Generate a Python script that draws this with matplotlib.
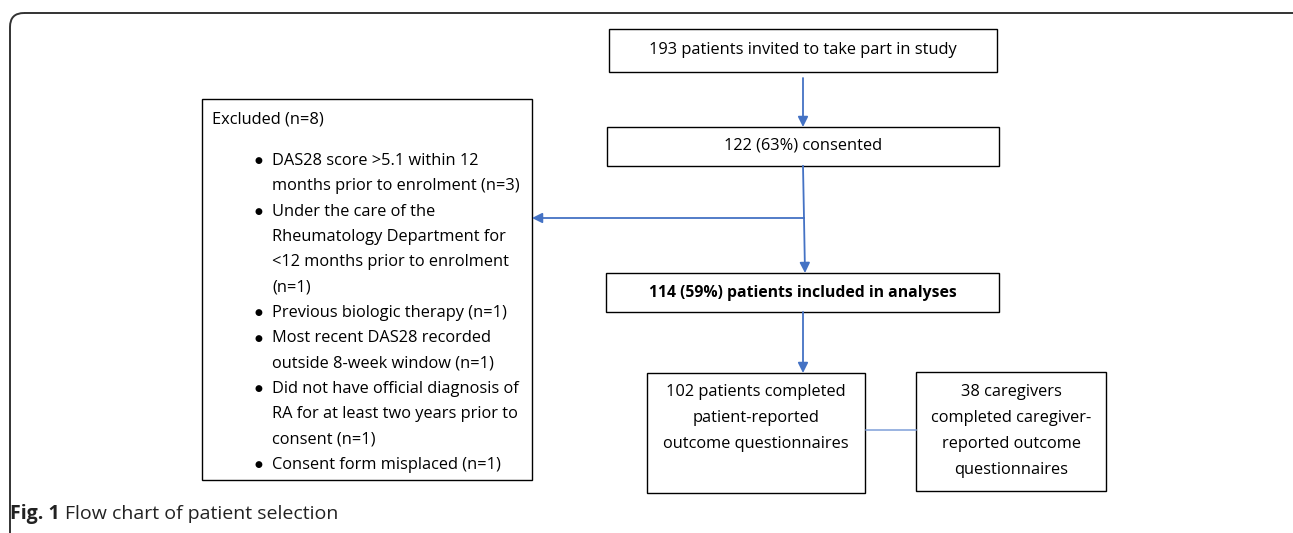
import matplotlib
matplotlib.use("Agg")
import matplotlib.pyplot as plt
from matplotlib.patches import Rectangle, FancyBboxPatch

plt.rcParams['font.family'] = ['Open Sans', 'DejaVu Sans']

# texts of the flow chart
invited_txt = "193 patients invited to take part in study"
consent_txt = "122 (63%) consented"
included_txt = "114 (59%) patients included in analyses"
patients_lines = ["102 patients completed", "patient-reported", "outcome questionnaires"]
carers_lines = ["38 caregivers", "completed caregiver-", "reported outcome", "questionnaires"]
excl_title = "Excluded (n=8)"
excl_items = [
    ["DAS28 score >5.1 within 12", "months prior to enrolment (n=3)"],
    ["Under the care of the", "Rheumatology Department for",
     "<12 months prior to enrolment", "(n=1)"],
    ["Previous biologic therapy (n=1)"],
    ["Most recent DAS28 recorded", "outside 8-week window (n=1)"],
    ["Did not have official diagnosis of", "RA for at least two years prior to",
     "consent (n=1)"],
    ["Consent form misplaced (n=1)"],
]
cap_bold = "Fig. 1"
cap_rest = "Flow chart of patient selection"

W, H = 1293, 533
fig = plt.figure(figsize=(W / 100, H / 100), dpi=100)
ax = fig.add_axes([0, 0, 1, 1])
ax.set_xlim(0, W)
ax.set_ylim(H, 0)
ax.axis("off")

blue = "#4472c4"
fs = 11.8

# outer rounded frame
ax.add_patch(FancyBboxPatch((10, 13), 1300, 600, boxstyle="round,pad=0,rounding_size=14",
                            fill=False, ec="#333333", lw=1.4, clip_on=True))

def box(x0, y0, x1, y1):
    ax.add_patch(Rectangle((x0, y0), x1 - x0, y1 - y0, fill=False, ec="black", lw=1.0))

def arrow(x0, y0, x1, y1):
    ax.annotate("", xy=(x1, y1), xytext=(x0, y0),
                arrowprops=dict(arrowstyle="-|>,head_length=0.6,head_width=0.3",
                                color=blue, lw=1.3, shrinkA=0, shrinkB=0))

def lines(xc, y0, rows, step=26):
    for i, s in enumerate(rows):
        ax.text(xc, y0 + i * step, s, ha="center", va="center", fontsize=fs)

box(609, 29, 997, 72)
ax.text(803, 50, invited_txt, ha="center", va="center", fontsize=fs)
box(607, 127, 999, 166)
ax.text(803, 146, consent_txt, ha="center", va="center", fontsize=fs)
box(606, 273, 999, 312)
ax.text(803, 293, included_txt, ha="center", va="center", fontsize=11.3, fontweight="bold")
box(647, 373, 865, 493)
lines(756, 392, patients_lines)
box(916, 372, 1106, 491)
lines(1011, 392, carers_lines)

arrow(803, 78, 803, 127)
ax.plot([803, 804], [166, 218], color=blue, lw=1.3)
arrow(804, 218, 532, 218)
arrow(804, 218, 805, 273)
arrow(803, 312, 803, 373)
ax.plot([866, 916], [430, 430], color="#7f9fd8", lw=1.1)

# excluded box
box(202, 99, 532, 480)
ax.text(212, 119, excl_title, ha="left", va="center", fontsize=fs)
y = 161
for item in excl_items:
    ax.text(258, y, "\u25CF", ha="center", va="center", fontsize=6.5)
    for line in item:
        ax.text(272, y, line, ha="left", va="center", fontsize=fs)
        y += 25.3

# caption
t = ax.text(10, 514, cap_bold, ha="left", va="center", fontsize=14, fontweight="bold",
            color="#222222")
fig.canvas.draw()
bb = t.get_window_extent()
x_end = ax.transData.inverted().transform((bb.x1, bb.y0))[0]
ax.text(x_end + 5, 514, cap_rest, ha="left", va="center", fontsize=14, color="#222222")

fig.savefig("out.png", dpi=100)
